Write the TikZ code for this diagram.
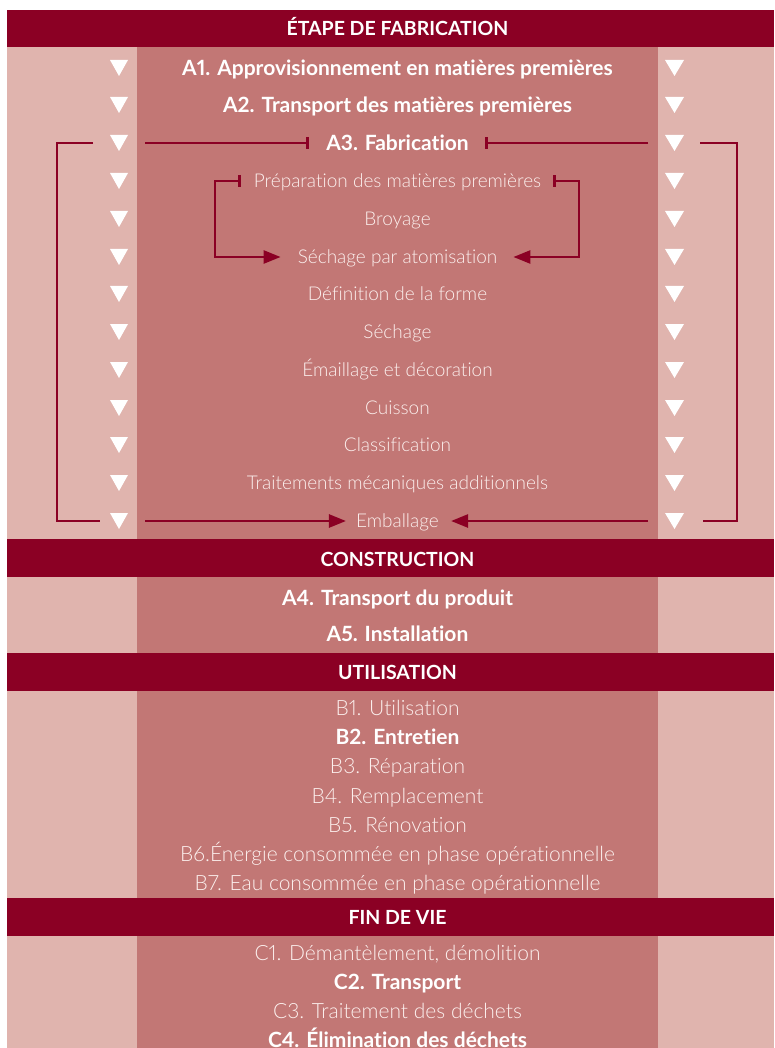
\documentclass[tikz,border=0pt]{standalone}
\usepackage{fontspec}
\setmainfont[Ligatures=NoCommon,Numbers=Proportional]{Lato}
\newfontfamily\lightfont[Ligatures=NoCommon,Numbers=Proportional]{Lato Light}
\usetikzlibrary{arrows.meta}
\definecolor{dark}{RGB}{139,0,36}
\definecolor{pale}{RGB}{224,180,174}
\definecolor{mid}{RGB}{194,119,117}
\definecolor{txt}{RGB}{252,240,238}
\begin{document}
\begin{tikzpicture}[x=1pt,y=-1pt,
  band/.style={fill=dark},
  base/.style={inner sep=0pt,text depth=0pt},
  headtxt/.style={base,text height=14pt,text=white,font=\bfseries\fontsize{19.5}{22}\selectfont},
  bolditem/.style={base,text height=15.1pt,text=white,font=\bfseries\fontsize{21}{24}\selectfont},
  lightitem/.style={base,text height=13.7pt,text=txt,font=\lightfont\fontsize{19}{22}\selectfont},
  bitem/.style={base,text height=15.1pt,text=txt,font=\lightfont\fontsize{21}{24}\selectfont},
  conn/.style={draw=dark,line width=2.6pt},
  bartip/.tip={Bar[width=12pt,line width=2.6pt]},
  arrtip/.tip={Triangle[length=17pt,width=13pt]}
]
\useasboundingbox (0,0) rectangle (774,1048);
\fill[white] (0,0) rectangle (774,1048);
\fill[pale] (7,10) rectangle (774,1048);
\fill[mid] (137,10) rectangle (658,1048);
% bands
\fill[band] (7,10) rectangle (774,47);
\fill[band] (7,539) rectangle (774,577);
\fill[band] (7,653) rectangle (774,691);
\fill[band] (7,898) rectangle (774,936);
\node[headtxt] (h1) at (397.5,29) {ÉTAPE DE FABRICATION};
\node[headtxt] (h2) at (397.5,559) {CONSTRUCTION};
\node[headtxt] (h3) at (397.5,672) {UTILISATION};
\node[headtxt] (h4) at (397.5,917) {FIN DE VIE};
% triangles
\foreach \yy in {68,105,143,181,219,257,294,332,370,408,445,483,521}{
  \fill[white] (110,\yy-8) -- (128,\yy-8) -- (119,\yy+8) -- cycle;
  \fill[white] (665,\yy-8) -- (684,\yy-8) -- (674.5,\yy+8) -- cycle;
}
% A items
\node[bolditem] (a1) at (397.5,68) {A1. Approvisionnement en matières premières};
\node[bolditem] (a2) at (397.5,105) {A2. Transport des matières premières};
\node[bolditem] (a3) at (397.5,143) {A3. Fabrication};
\node[lightitem] (prep) at (397.5,181) {Préparation des matières premières};
\node[lightitem] (broy) at (397.5,219) {Broyage};
\node[lightitem] (atom) at (397.5,257) {Séchage par atomisation};
\node[lightitem] (def) at (397.5,294) {Définition de la forme};
\node[lightitem] (sech) at (397.5,332) {Séchage};
\node[lightitem] (email) at (397.5,370) {Émaillage et décoration};
\node[lightitem] (cuis) at (397.5,408) {Cuisson};
\node[lightitem] (class) at (397.5,445) {Classification};
\node[lightitem] (trait) at (397.5,483) {Traitements mécaniques additionnels};
\node[lightitem] (emb) at (397.5,521) {Emballage};
\node[bolditem] (a4) at (397.5,598) {A4. Transport du produit};
\node[bolditem] (a5) at (397.5,634) {A5. Installation};
\node[bitem] (b1) at (397.5,708) {B1. Utilisation};
\node[bolditem] (b2) at (397.5,737) {B2. Entretien};
\node[bitem] (b3) at (397.5,766) {B3. Réparation};
\node[bitem] (b4) at (397.5,796) {B4. Remplacement};
\node[bitem] (b5) at (397.5,825) {B5. Rénovation};
\node[bitem] (b6) at (397.5,854) {B6.Énergie consommée en phase opérationnelle};
\node[bitem] (b7) at (397.5,883) {B7. Eau consommée en phase opérationnelle};
\node[bitem] (c1) at (397.5,953) {C1. Démantèlement, démolition};
\node[bolditem] (c2) at (397.5,982) {C2. Transport};
\node[bitem] (c3) at (397.5,1011) {C3. Traitement des déchets};
\node[bolditem] (c4) at (397.5,1040) {C4. Élimination des déchets};
% connector coordinates
\coordinate (a3L) at (145,143);
\coordinate (a3R) at (648,143);
\coordinate (embL) at (145,521);
\coordinate (embR) at (648,521);
\coordinate (oL1) at (93,143);
\coordinate (oL2) at (57,143);
\coordinate (oL3) at (57,521);
\coordinate (oL4) at (100,521);
\coordinate (oR1) at (700,143);
\coordinate (oR2) at (737,143);
\coordinate (oR3) at (737,521);
\coordinate (oR4) at (703,521);
\coordinate (iL) at (215,181);
\coordinate (iR) at (579,181);
% connectors
\draw[conn,-bartip] (a3L) -- ([xshift=-17pt]a3.west);
\draw[conn,-bartip] (a3R) -- ([xshift=16pt]a3.east);
\draw[conn] (oL1) -- (oL2) -- (oL3) -- (oL4);
\draw[conn] (oR1) -- (oR2) -- (oR3) -- (oR4);
\draw[conn,-arrtip] (embL) -- ([xshift=-10pt]emb.west);
\draw[conn,-arrtip] (embR) -- ([xshift=12pt]emb.east);
\draw[conn,bartip-arrtip] ([xshift=-13pt]prep.west) -- (iL) |- ([xshift=-17pt]atom.west);
\draw[conn,bartip-arrtip] ([xshift=12pt]prep.east) -- (iR) |- ([xshift=16pt]atom.east);
\end{tikzpicture}
\end{document}
